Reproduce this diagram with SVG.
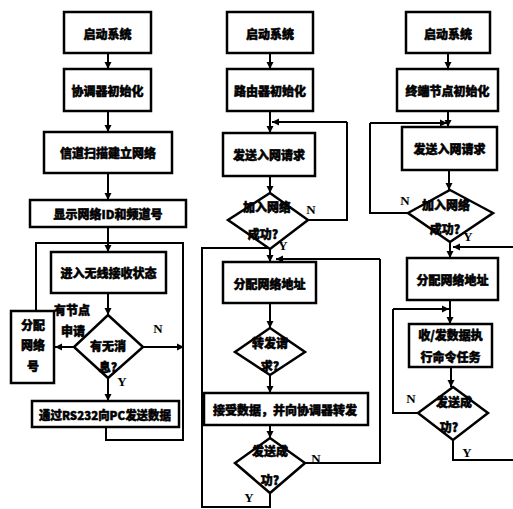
<svg xmlns="http://www.w3.org/2000/svg" width="513" height="509" viewBox="0 0 513 509">
<defs>
<marker id="ah" markerUnits="userSpaceOnUse" markerWidth="8" markerHeight="8" refX="7" refY="4" orient="auto">
<path d="M0,0.5 L7,4 L0,7.5 Z" fill="#000"/>
</marker>
<style>
.box{fill:#fff;stroke:#000;stroke-width:2.5}
.dia{fill:#fff;stroke:#000;stroke-width:2.5}
.ln{fill:none;stroke:#000;stroke-width:2}
.ar{fill:none;stroke:#000;stroke-width:2;marker-end:url(#ah)}
.t{font-family:"Noto Sans CJK SC","Noto Sans CJK TC",sans-serif;font-weight:900;font-size:12px;fill:#000;stroke:#000;stroke-width:0.5;text-anchor:middle;dominant-baseline:central}
.l{font-family:"Liberation Serif",serif;font-weight:bold;font-size:13px;fill:#000;text-anchor:middle;dominant-baseline:central}
</style>
</defs>
<rect width="513" height="509" fill="#fff"/>
<g id="connectors">
<path class="ar" d="M108,53 V69"/>
<path class="ar" d="M108,111 V132"/>
<path class="ar" d="M108,173 V200"/>
<path class="ar" d="M108,227 V252"/>
<path class="ar" d="M108,293 V315"/>
<path class="ar" d="M108,378 V401"/>
<path class="ar" d="M74,347 H55"/>
<path class="ar" d="M143,347 H184"/>
<path class="ln" d="M106,427 V440 H183 V243 H36 V311"/>
<path class="ar" d="M270,53 V69"/>
<path class="ar" d="M270,111 V133"/>
<path class="ar" d="M270,176 V193"/>
<path class="ln" d="M308,220 H347 V122"/>
<path class="ar" d="M347,122 H272"/>
<path class="ar" d="M270,249 V262"/>
<path class="ar" d="M270,303 V328"/>
<path class="ar" d="M270,375 V393"/>
<path class="ar" d="M270,425 V438"/>
<path class="ln" d="M270,493 V507 H202 V248 H268"/>
<path class="ln" d="M305,463 H380 V259"/>
<path class="ar" d="M380,259 H276"/>
<path class="ar" d="M448,53 V69"/>
<path class="ar" d="M448,111 V127"/>
<path class="ar" d="M449,170 V190"/>
<path class="ln" d="M408,213 H370 V123"/>
<path class="ar" d="M370,123 H447"/>
<path class="ar" d="M450,242 V258"/>
<path class="ar" d="M513,247 H453"/>
<path class="ar" d="M450,300 V324"/>
<path class="ln" d="M418,413 H393 V309"/>
<path class="ar" d="M393,309 H449"/>
<path class="ar" d="M451,367 V387"/>
<path class="ln" d="M453,440 V460 H513"/>
</g>
<g id="c1_start"><rect class="box" x="64" y="12" width="87" height="41"/><text class="t" x="107.5" y="33">启动系统</text></g>
<g id="c1_init"><rect class="box" x="64" y="69" width="87" height="42"/><text class="t" x="107.5" y="90">协调器初始化</text></g>
<g id="c1_scan"><rect class="box" x="44" y="132" width="128" height="41"/><text class="t" x="108" y="152.5">信道扫描建立网络</text></g>
<g id="c1_show"><rect class="box" x="30" y="200" width="156" height="27"/><text class="t" x="108" y="213.5">显示网络ID和频道号</text></g>
<g id="c1_recv"><rect class="box" x="51" y="252" width="115" height="41"/><text class="t" x="108.5" y="272.5">进入无线接收状态</text></g>
<g id="c1_msg"><polygon class="dia" points="108,315 143,347 108,378 74,347"/><text class="t" x="108" y="345">有无消</text><text class="t" x="108" y="366">息?</text></g>
<g id="c1_assign"><rect class="box" x="11" y="311" width="43" height="72"/><text class="t" x="33" y="324">分配</text><text class="t" x="33" y="344">网络</text><text class="t" x="33" y="365">号</text></g>
<g id="c1_send"><rect class="box" x="32" y="401" width="147" height="26"/><text class="t" x="105" y="414" textLength="132" lengthAdjust="spacingAndGlyphs">通过RS232向PC发送数据</text></g>
<g id="c1_labels"><text class="t" x="72" y="309">有节点</text><text class="t" x="73" y="330">申请</text><text class="l" x="158" y="328">N</text><text class="l" x="122" y="381">Y</text></g>
<g id="c2_start"><rect class="box" x="227" y="12" width="86" height="41"/><text class="t" x="270" y="33">启动系统</text></g>
<g id="c2_init"><rect class="box" x="227" y="69" width="86" height="42"/><text class="t" x="270" y="90">路由器初始化</text></g>
<g id="c2_req"><rect class="box" x="223" y="133" width="92" height="43"/><text class="t" x="269" y="154.5">发送入网请求</text></g>
<g id="c2_join"><polygon class="dia" points="270,193 308,220 270,249 228,220"/><text class="t" x="267" y="206">加入网络</text><text class="t" x="263" y="233">成功?</text></g>
<g id="c2_addr"><rect class="box" x="223" y="262" width="93" height="41"/><text class="t" x="269.5" y="283">分配网络地址</text></g>
<g id="c2_fwd"><polygon class="dia" points="270,328 305,352 270,375 235,352"/><text class="t" x="270" y="342">转发请</text><text class="t" x="270" y="365">求?</text></g>
<g id="c2_data"><rect class="box" x="204" y="393" width="164" height="32"/><text class="t" x="285" y="409">接受数据，并向协调器转发</text></g>
<g id="c2_ok"><polygon class="dia" points="270,438 305,463 270,493 235,463"/><text class="t" x="270" y="450">发送成</text><text class="t" x="270" y="479">功?</text></g>
<g id="c2_labels"><text class="l" x="311" y="209">N</text><text class="l" x="283" y="245">Y</text><text class="l" x="316" y="458">N</text><text class="l" x="249" y="497">Y</text></g>
<g id="c3_start"><rect class="box" x="406" y="12" width="84" height="41"/><text class="t" x="448" y="33">启动系统</text></g>
<g id="c3_init"><rect class="box" x="397" y="69" width="101" height="42"/><text class="t" x="447.5" y="90">终端节点初始化</text></g>
<g id="c3_req"><rect class="box" x="402" y="127" width="95" height="43"/><text class="t" x="449.5" y="148.5">发送入网请求</text></g>
<g id="c3_join"><polygon class="dia" points="450,190 493,213 450,242 408,213"/><text class="t" x="446" y="204">加入网络</text><text class="t" x="445" y="228">成功?</text></g>
<g id="c3_addr"><rect class="box" x="407" y="258" width="91" height="42"/><text class="t" x="452.5" y="279">分配网络地址</text></g>
<g id="c3_task"><rect class="box" x="409" y="324" width="83" height="43"/><text class="t" x="450.5" y="334">收/发数据执</text><text class="t" x="450.5" y="356">行命令任务</text></g>
<g id="c3_ok"><polygon class="dia" points="453,387 488,413 453,440 418,413"/><text class="t" x="454" y="401">发送成</text><text class="t" x="449" y="426">功?</text></g>
<g id="c3_labels"><text class="l" x="405" y="200">N</text><text class="l" x="468" y="236">Y</text><text class="l" x="411" y="398">N</text><text class="l" x="467" y="452">Y</text></g>
</svg>
